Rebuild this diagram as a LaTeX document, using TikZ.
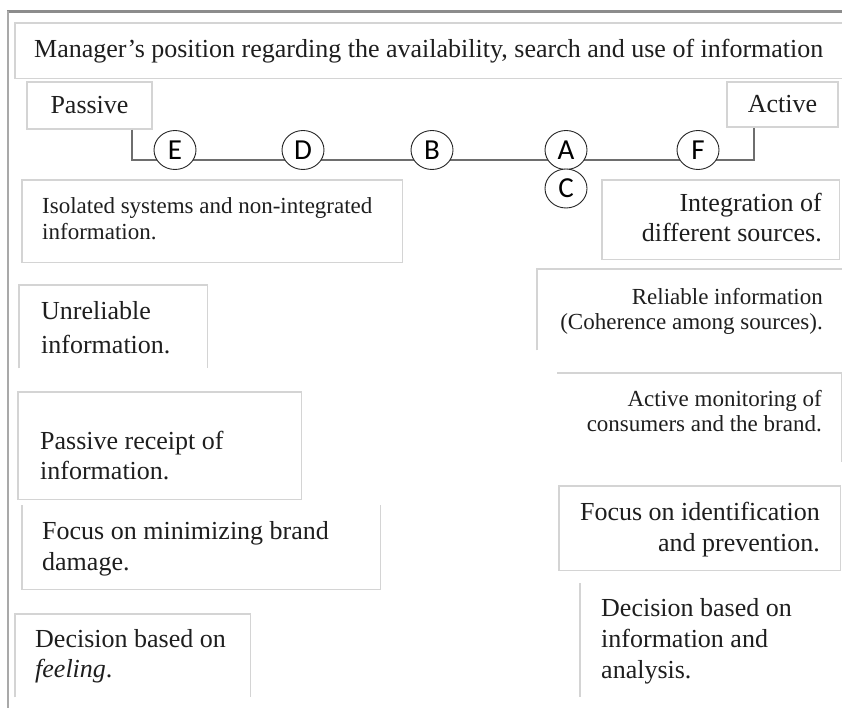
\documentclass[tikz,border=0pt]{standalone}
\usepackage{fontspec}
\setmainfont{Liberation Serif}
\newfontfamily\stagefont{Carlito}
\usepackage{tikz}
\usetikzlibrary{positioning,shapes.geometric}
\definecolor{framegray}{HTML}{8C8C8C}
\definecolor{boxgray}{HTML}{D4D4D4}
\definecolor{axisgray}{HTML}{6E6E6E}
\definecolor{inkgray}{HTML}{1E1E1E}
\tikzset{
  area/.style={rectangle, inner sep=0pt, anchor=north west},
  boxline/.style={draw=boxgray, line width=1.3pt},
  bigtxt/.style={font=\fontsize{26}{31}\selectfont, inner sep=0pt, text=inkgray},
  smalltxt/.style={font=\fontsize{23}{25}\selectfont, inner sep=0pt, text=inkgray},
  stage/.style={ellipse, draw=black!85, line width=0.9pt, fill=white,
    minimum width=42pt, minimum height=39pt, inner sep=0pt,
    font=\stagefont\fontsize{29}{29}\selectfont}
}

\begin{document}
\begin{tikzpicture}[x=1pt,y=-1pt]
		\useasboundingbox (0,0) rectangle (842,708);
		%Frame round the figure
		\draw[framegray, line width=2.5pt] (7,11.5) -- (842,11.5);
		\draw[framegray!75, line width=2pt] (8,11.5) -- (8,708);
		%Title
		\node[area, minimum width=830pt, minimum height=55pt] (title) at (15,23) {};
		\draw[boxline] (title.north east) -- (title.north west) -- (title.south west) -- (title.south east);
		\node[bigtxt, font=\fontsize{26}{30}\selectfont, anchor=base west] (titletxt) at (34,58)
			{Manager's position regarding the availability, search and use of information};
		%Both ends of the scale
		\node[bigtxt, boxline, minimum width=125pt, minimum height=47pt] (passive) at (89.5,105.5) {Passive};
		\node[bigtxt, boxline, minimum width=111pt, minimum height=45pt] (active) at (782.5,104.5) {Active};
		\coordinate (axl) at (132,160);
		\coordinate (axr) at (754,160);
		\draw[axisgray, line width=1.5pt] (axl |- passive.south) -- (axl) -- (axr) -- (axr |- active.south);
		\foreach \l/\x in {E/175,D/303,B/432,A/566,F/698}
			\node[stage] (st\l) at (\x,150) {\l};
		\node[stage] (stC) at (566,188.5) {C};
		%Left column (passive side), texts placed by their last line
		\node[area, minimum width=380pt, minimum height=82pt] (isol) at (22,180) {};
		\draw[boxline] (isol.south west) rectangle (isol.north east);
		\node[smalltxt, font=\fontsize{23}{26}\selectfont, align=left, anchor=base west] (isoltxt) at (42,240)
			{Isolated systems and non-integrated\\information.};
		\node[area, minimum width=188pt, minimum height=83pt] (unrel) at (19,285) {};
		\draw[boxline] (unrel.south west) |- (unrel.north east) -- (unrel.south east);
		\node[bigtxt, font=\fontsize{26}{34}\selectfont, align=left, anchor=base west] (unreltxt) at (41,353)
			{Unreliable\\information.};
		\node[area, minimum width=283pt, minimum height=107pt] (precv) at (18,392) {};
		\draw[boxline] (precv.south west) rectangle (precv.north east);
		\node[bigtxt, font=\fontsize{26}{30}\selectfont, align=left, anchor=base west] (precvtxt) at (40,479)
			{Passive receipt of\\information.};
		\node[area, minimum width=358pt, minimum height=84pt] (focmin) at (22,505) {};
		\draw[boxline] (focmin.north west) |- (focmin.south east) -- (focmin.north east);
		\node[bigtxt, align=left, anchor=base west] (focmintxt) at (42,570)
			{Focus on minimizing brand\\damage.};
		\node[area, minimum width=235pt, minimum height=83pt] (decf) at (15,614) {};
		\draw[boxline] (decf.south west) |- (decf.north east) -- (decf.south east);
		\node[bigtxt, font=\fontsize{26}{30}\selectfont, align=left, anchor=base west] (decftxt) at (35,677)
			{Decision based on\\\textit{feeling}.};
		%Right column (active side)
		\node[area, minimum width=237pt, minimum height=79pt] (integ) at (602,180) {};
		\draw[boxline] (integ.south west) rectangle (integ.north east);
		\node[bigtxt, font=\fontsize{26}{30}\selectfont, align=right, anchor=base east] (integtxt) at (822,242)
			{Integration of\\different sources.};
		\node[area, minimum width=310pt, minimum height=81pt] (relia) at (537,269) {};
		\draw[boxline] (relia.south west) |- (relia.north east);
		\node[smalltxt, align=right, anchor=base east] (reliatxt) at (823,329)
			{Reliable information\\(Coherence among sources).};
		\node[area, minimum width=284pt, minimum height=89pt] (amon) at (557,373) {};
		\draw[boxline] (amon.north west) -| (amon.south east);
		\node[smalltxt, align=right, anchor=base east] (amontxt) at (822,431)
			{Active monitoring of\\consumers and the brand.};
		\node[area, minimum width=281pt, minimum height=84pt] (focid) at (559,486) {};
		\draw[boxline] (focid.south west) rectangle (focid.north east);
		\node[bigtxt, align=right, anchor=base east] (focidtxt) at (820,551)
			{Focus on identification\\and prevention.};
		\node[area, minimum width=262pt, minimum height=114pt] (deci) at (580,583) {};
		\draw[boxline] (deci.north west) -- (deci.south west);
		\node[bigtxt, align=left, anchor=base west] (decitxt) at (601,678)
			{Decision based on\\information and\\analysis.};
\end{tikzpicture}
\end{document}
